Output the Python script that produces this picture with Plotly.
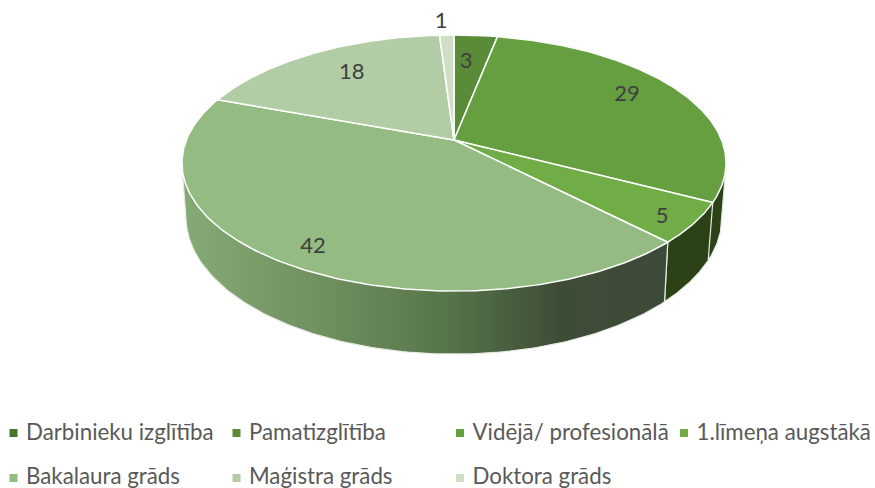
import numpy as np
import plotly.graph_objects as go

# Data
categories = ["Darbinieku izglītība", "Pamatizglītība", "Vidējā/ profesionālā",
              "1.līmeņa augstākā", "Bakalaura grāds", "Maģistra grāds", "Doktora grāds"]
values = [None, 3, 29, 5, 42, 18, 1]
colors = ["#4a7530", "#598b39", "#659f40", "#70ad47", "#93bb82", "#b2cda5", "#cfdfc6"]
label_radius = [None, 0.732, 0.799, 0.889, 0.866, 0.75, 1.174]
label_turn_deg = [None, -1.5, -4.2, 1.2, -1.2, 2.3, -1.0]
wall_fill = [None, "#2b4217", "#2b4217", "#2b4217", None, "#b2cda5", "#cfdfc6"]
wall_gradient = [[0, "#86aa75"], [0.12, "#7d9f6c"], [0.3, "#6e8f5e"], [0.55, "#56744a"],
                 [0.78, "#3d4c37"], [1, "#3e4a38"]]

# Projection of the tilted disc (perspective) on to page pixels
CX, CY, A, B, P = 454.0, 140.0, 267.6, 123.9, 0.1797
FLOOR_CY, FLOOR_SX, FLOOR_SY = 192.5, 0.985, 1.07
LABEL_DROP = 2
W, H = 875, 488

# Key layout
KEY_COLS = [13.5, 236.5, 460, 684]
KEY_ROWS = [433, 478]
KEY_TEXT_GAP = 12.5
KEY_TEXT_Y = [434, 478]
KEY_SLOT = [(0, 0), (1, 0), (2, 0), (3, 0), (0, 1), (1, 1), (2, 1)]


def project(r, theta, cy=CY, sx=1.0, sy=1.0):
    u, v = r * np.sin(theta), r * np.cos(theta)
    w = 1 + P * v
    return CX + sx * A * u / w, cy - sy * B * v / w


def convex_hull(xs, ys):
    pts = sorted(set(zip(xs.tolist(), ys.tolist())))

    def half(seq):
        out = []
        for p in seq:
            while len(out) > 1 and ((out[-1][0] - out[-2][0]) * (p[1] - out[-2][1])
                                    - (out[-1][1] - out[-2][1]) * (p[0] - out[-2][0])) <= 0:
                out.pop()
            out.append(p)
        return out[:-1]

    ring = half(pts) + half(pts[::-1])
    ring.append(ring[0])
    return [p[0] for p in ring], [p[1] for p in ring]


present = [(i, v) for i, v in enumerate(values) if v is not None]
total = sum(v for _, v in present)
fig = go.Figure()

cum = 0.0
spans = {}
for i, v in present:
    spans[i] = (cum / total * 2 * np.pi, (cum + v) / total * 2 * np.pi)
    cum += v

# Side wall first, top faces above it
for i, _ in present:
    a, b = spans[i]
    t = np.linspace(a, b, 160)
    xt, yt = project(1, t)
    xb, yb = project(1, t, FLOOR_CY, FLOOR_SX, FLOOR_SY)
    x, y = convex_hull(np.r_[xt, xb], np.r_[yt, yb])
    kw = {}
    if wall_fill[i] is None:
        kw["fillgradient"] = dict(type="horizontal", colorscale=wall_gradient,
                                  start=float(min(x)), stop=float(max(x)))
    else:
        kw["fillcolor"] = wall_fill[i]
    fig.add_trace(go.Scatter(x=x, y=y, mode="lines", fill="toself", showlegend=False,
                             hoverinfo="skip", line=dict(color="#e6ebe3", width=1.2), **kw))

for i, _ in present:
    a, b = spans[i]
    t = np.linspace(a, b, 200)
    xt, yt = project(1, t)
    x = np.r_[CX, xt, CX]
    y = np.r_[CY, yt, CY]
    fig.add_trace(go.Scatter(x=x, y=y, mode="lines", fill="toself", fillcolor=colors[i],
                             showlegend=False, hoverinfo="skip",
                             line=dict(color="white", width=1.5)))

# Value labels
lx, ly, lt = [], [], []
for i, v in present:
    a, b = spans[i]
    px, py = project(label_radius[i], (a + b) / 2 + np.radians(label_turn_deg[i]))
    lx.append(px); ly.append(py + LABEL_DROP); lt.append(str(v))
fig.add_trace(go.Scatter(x=lx, y=ly, text=lt, mode="text", showlegend=False, hoverinfo="skip",
                         textposition="middle center",
                         textfont=dict(family="Lato", size=22, color="#404040")))

# Key
for name, c, (col, row) in zip(categories, colors, KEY_SLOT):
    fig.add_trace(go.Scatter(x=[KEY_COLS[col]], y=[KEY_ROWS[row]], mode="markers", name=name,
                             showlegend=False, hoverinfo="skip",
                             marker=dict(symbol="square", size=8, color=c)))
    fig.add_trace(go.Scatter(x=[KEY_COLS[col] + KEY_TEXT_GAP], y=[KEY_TEXT_Y[row]],
                             mode="text", text=[name], showlegend=False, hoverinfo="skip",
                             textposition="middle right", cliponaxis=False,
                             textfont=dict(family="Lato", size=22.3, color="#595959")))

fig.update_layout(
    width=W, height=H, margin=dict(l=0, r=0, t=0, b=0, autoexpand=False), paper_bgcolor="white",
    plot_bgcolor="white",
    xaxis=dict(range=[0, W], visible=False, fixedrange=True),
    yaxis=dict(range=[H, 0], visible=False, fixedrange=True),
)
fig.write_html("out.html", config={"displayModeBar": False},
               post_script="document.body.style.margin='0';document.documentElement.style.overflow='hidden';")
